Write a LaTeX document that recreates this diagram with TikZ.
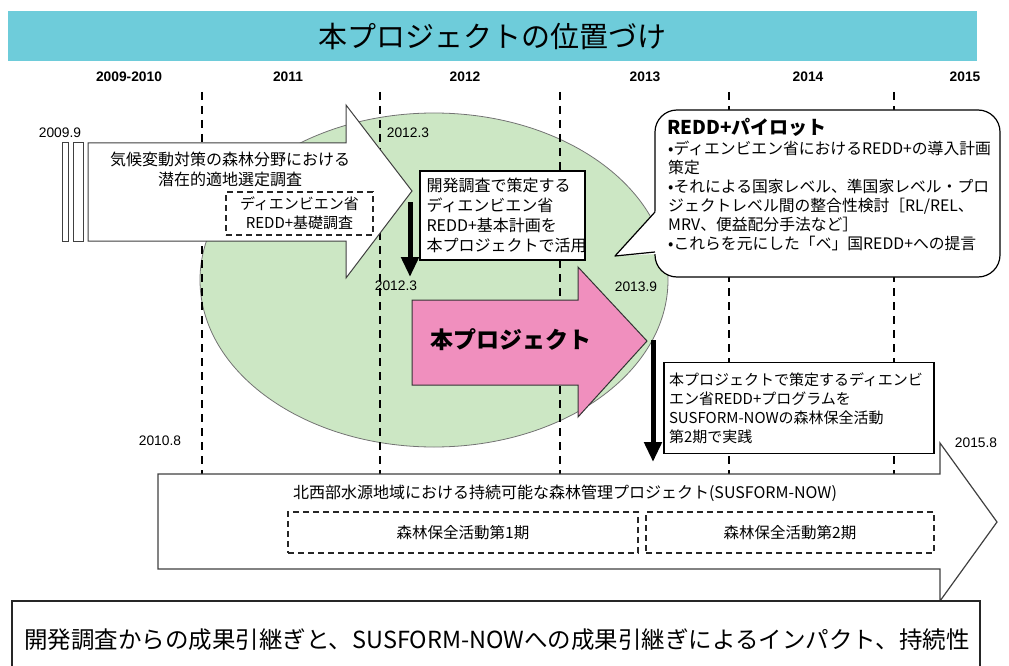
\documentclass[tikz,border=0pt]{standalone}
\usepackage{fontspec}
\setmainfont{Noto Sans CJK JP}
\newfontfamily\latf{Liberation Sans}
\usetikzlibrary{arrows.meta}
\definecolor{bandcyan}{RGB}{110,204,218}
\definecolor{ellgreen}{RGB}{204,231,196}
\definecolor{projpink}{RGB}{240,143,190}
\newcommand\jfs[2]{\fontsize{#1}{#2}\selectfont}
\tikzset{
  yearlbl/.style={inner sep=0pt, font=\latf\bfseries\jfs{13.8}{15}},
  datelbl/.style={inner sep=0pt, font=\latf\jfs{13.8}{15}},
  vdash/.style={line width=1.4pt, dash pattern=on 8pt off 6pt},
  shapeline/.style={draw=black!75, line width=1pt},
  dashbox/.style={draw=black!85, line width=1.2pt, dash pattern=on 6pt off 4pt},
  plainbox/.style={draw=black, line width=1.2pt, fill=white},
  downarrow/.style={line width=5pt, -{Triangle[length=20pt,width=17pt]}},
  txt/.style={inner sep=0pt, align=#1},
  txt/.default=center
}
\begin{document}
\begin{tikzpicture}[x=1pt,y=-1pt]
\useasboundingbox (0,0) rectangle (1009,666);
\clip (0,0) rectangle (1009,666);

% title band
\node[fill=bandcyan, minimum width=969pt, minimum height=50pt, inner sep=0pt, anchor=north west] (title) at (8,11) {\jfs{29}{32}本プロジェクトの位置づけ};

% year headers
\node[yearlbl] (y0910) at (129,77) {2009-2010};
\node[yearlbl] (y11) at (288,77) {2011};
\node[yearlbl] (y12) at (465,77) {2012};
\node[yearlbl] (y13) at (645,77) {2013};
\node[yearlbl] (y14) at (808,77) {2014};
\node[yearlbl] (y15) at (965,77) {2015};

% ellipse
\draw[fill=ellgreen, draw=black!55, line width=0.8pt] (434,280) ellipse [x radius=234, y radius=167];

% dashed year separators
\foreach \xx/\nm in {202/a,380/b,560/c,729/d,894/e}{
  \coordinate (t\nm) at (\xx,92);
  \coordinate (b\nm) at (\xx,474);
  \draw[vdash] (t\nm) -- (b\nm);
}

% left arrow (study)
\draw[shapeline, fill=white] (62,143) rectangle (68,241);
\draw[shapeline, fill=white] (73,143) rectangle (83,241);
\draw[shapeline, fill=white] (88,143) -- (346,143) -- (346,105) -- (412,191) -- (346,278) -- (346,241) -- (88,241) -- cycle;
\node[txt, font=\jfs{16}{20}] (study) at (230,169) {気候変動対策の森林分野における\\潜在的適地選定調査};
\node[dashbox, minimum width=147pt, minimum height=43pt, inner sep=0pt, align=center, font=\jfs{15}{19}] (basic) at (299.5,213.5) {ディエンビエン省\\REDD+基礎調査};

% plan box
\node[plainbox, minimum width=165pt, minimum height=89pt, text width=152pt, inner sep=0pt, align=left, font=\jfs{16}{20}] (plan) at (502.5,215.5) {開発調査で策定する\\ディエンビエン省\\REDD+基本計画を\\本プロジェクトで活用};

% arrow down 1
\coordinate (d1s) at (410,202);
\coordinate (d1e) at (410,277);
\draw[downarrow] (d1s) -- (d1e);

% pink arrow
\draw[draw=black!80, line width=1pt, fill=projpink] (412,300) -- (578,300) -- (578,267) -- (647,341) -- (578,417) -- (578,385) -- (412,385) -- cycle;
\node[inner sep=0pt, font=\bfseries\jfs{23}{26}] (proj) at (511,340) {本プロジェクト};

% date labels
\node[datelbl] (d09) at (60,133) {2009.9};
\node[datelbl] (d12a) at (408,133) {2012.3};
\node[datelbl] (d12b) at (396,286) {2012.3};
\node[datelbl] (d13) at (636,287) {2013.9};
\node[datelbl] (d10) at (160,441) {2010.8};
\node[datelbl] (d15) at (976,443) {2015.8};

% callout
\draw[draw=black, line width=1.2pt, fill=white, rounded corners=22pt] (655,110) rectangle (1000,277);
\fill[white] (658,209) -- (615,256) -- (658,254) -- cycle;
\coordinate (cpa) at (655,212);
\coordinate (cpt) at (615,256);
\coordinate (cpb) at (655,252);
\draw[line width=1.2pt, line join=round] (cpa) -- (cpt) -- (cpb);
\node[inner sep=0pt, anchor=west, font=\bfseries\jfs{19}{22}] (ctitle) at (667,127) {REDD+パイロット};
\node[txt=left, anchor=north west, font=\jfs{15.8}{19}] (cbody) at (668,141) {•ディエンビエン省におけるREDD+の導入計画\\策定\\•それによる国家レベル、準国家レベル・プロ\\ジェクトレベル間の整合性検討［RL/REL、\\MRV、便益配分手法など］\\•これらを元にした「ベ」国REDD+への提言};

% arrow down 2
\coordinate (d2s) at (653,340);
\coordinate (d2e) at (653,462);
\draw[downarrow] (d2s) -- (d2e);

% program box
\node[plainbox, minimum width=270pt, minimum height=91pt, text width=260pt, inner sep=0pt, align=left, font=\jfs{15}{19}] (prog) at (799,408) {本プロジェクトで策定するディエンビ\\エン省REDD+プログラムを\\SUSFORM-NOWの森林保全活動\\第2期で実践};

% bottom arrow (SUSFORM-NOW)
\draw[draw=black!75, line width=1.2pt, fill=white] (158,474) -- (940,474) -- (940,443) -- (997,522) -- (940,601) -- (940,569) -- (158,569) -- cycle;
\node[inner sep=0pt, font=\jfs{16}{18}] (sus) at (565,493) {北西部水源地域における持続可能な森林管理プロジェクト(SUSFORM-NOW)};
\node[dashbox, minimum width=350pt, minimum height=41pt, inner sep=0pt, font=\jfs{15.5}{18}] (ph1) at (463,532.5) {森林保全活動第1期};
\node[dashbox, minimum width=288pt, minimum height=41pt, inner sep=0pt, font=\jfs{15.5}{18}] (ph2) at (790,532.5) {森林保全活動第2期};

% bottom box
\draw[draw=black!85, line width=1.6pt, fill=white] (12,601) rectangle (980,690);
\node[inner sep=0pt, font=\jfs{23.5}{26}] (impact) at (497,640) {開発調査からの成果引継ぎと、SUSFORM-NOWへの成果引継ぎによるインパクト、持続性};
\end{tikzpicture}
\end{document}
